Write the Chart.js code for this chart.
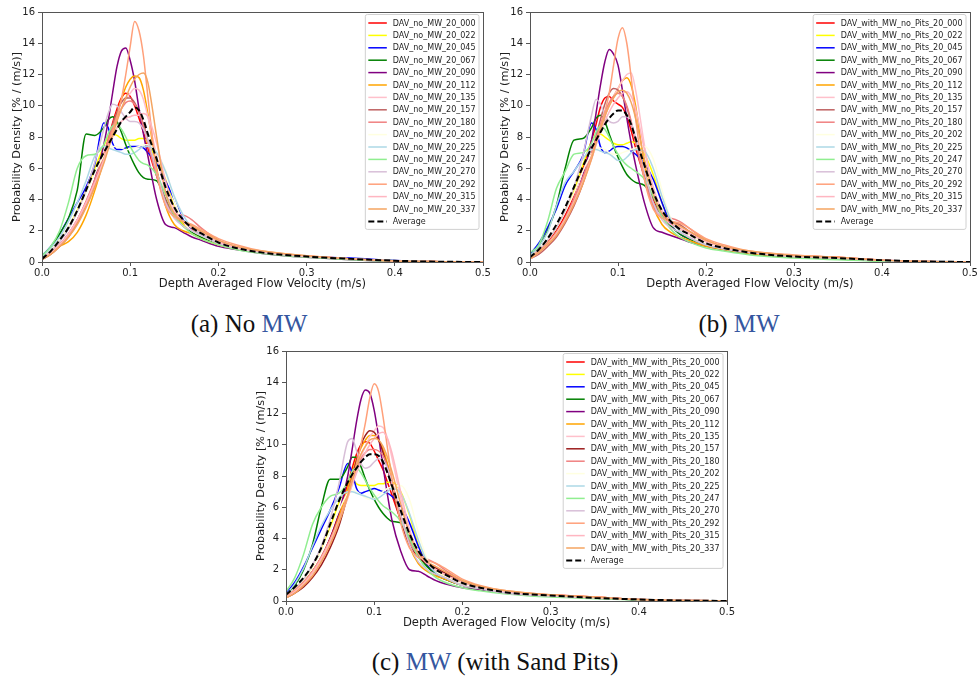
<!DOCTYPE html>
<html>
<head>
<meta charset="utf-8">
<script src="https://cdn.jsdelivr.net/npm/chart.js@4.4.1/dist/chart.umd.min.js"></script>
<style>
  html, body { margin: 0; padding: 0; background: #fff; overflow: hidden; }
  body { width: 979px; height: 679px; position: relative; }
  canvas { position: absolute; }
  .cap { position: absolute; font-family: "Liberation Serif", "DejaVu Serif", serif; font-size: 25px; color: #111; white-space: nowrap; transform: translateX(-50%); line-height: 1; }
  .cap .ac { color: #3556a0; }
</style>
</head>
<body>
<canvas id="cA" width="492" height="292" style="left:0px;top:0px;width:492px;height:292px"></canvas>
<canvas id="cB" width="491" height="292" style="left:488px;top:0px;width:491px;height:292px"></canvas>
<canvas id="cC" width="492" height="292" style="left:244px;top:339px;width:492px;height:292px"></canvas>
<div class="cap" style="left:249px;top:311px">(a) No <span class="ac">MW</span></div>
<div class="cap" style="left:739px;top:311px">(b) <span class="ac">MW</span></div>
<div class="cap" style="left:495px;top:649px">(c) <span class="ac">MW</span> (with Sand Pits)</div>
<script>
// Velocity grid (m/s) shared by every density curve
const velocity = [0, 0.01, 0.02, 0.03, 0.04, 0.05, 0.06, 0.07, 0.075, 0.08, 0.085, 0.09, 0.095, 0.1, 0.105, 0.11,
                  0.115, 0.12, 0.13, 0.14, 0.15, 0.16, 0.17, 0.18, 0.2, 0.22, 0.25, 0.3, 0.35, 0.4, 0.45, 0.5];

// Wave directions (degrees) used in the run names
const directions = ['000', '022', '045', '067', '090', '112', '135', '157', '180', '202', '225', '247', '270', '292', '315', '337'];

const xTickLabels = ['0.0', '0.1', '0.2', '0.3', '0.4', '0.5'];
const yTickLabels = ['0', '2', '4', '6', '8', '10', '12', '14', '16'];

const lineColors = ['#ff0000', '#ffff00', '#0000ff', '#008000', '#800080', '#ffa500', '#ffc0cb', '#bf6262',
                    '#f08080', '#ffffe0', '#add8e6', '#90ee90', '#d8bfd8', '#ffa07a', '#ffb6c1', '#f4a460'];
const lineColorsPits = ['#ff0000', '#ffff00', '#0000ff', '#008000', '#800080', '#ffa500', '#ffc0cb', '#9b1c1c',
                        '#f08080', '#ffffe0', '#add8e6', '#90ee90', '#d8bfd8', '#ffa07a', '#ffb6c1', '#f4a460'];

// (a) No MW — probability density [% / (m/s)]
const nm000 = [0.2,0.6,1.1,1.8,2.7,3.8,5.2,6.8,7.8,8.9,9.8,10.5,10.8,10.6,10.0,9.2,8.3,7.3,5.5,4.0,3.0,2.5,2.1,1.8,1.2,0.9,0.6,0.35,0.2,0.07,0.02,0];
const nm022 = [0.3,0.8,1.4,2.2,3.3,4.6,6.0,7.4,8.0,8.2,8.1,7.9,7.8,7.8,7.8,7.9,7.9,7.6,6.5,5.3,3.5,2.4,2.0,1.7,1.2,0.9,0.6,0.35,0.2,0.08,0.02,0];
const nm045 = [0.4,1.0,1.8,2.8,3.8,4.8,6.3,8.9,8.6,7.6,7.2,7.2,7.3,7.4,7.4,7.4,7.3,7.0,6.3,5.2,4.0,2.7,2.0,1.7,1.2,0.9,0.6,0.35,0.25,0.1,0.02,0];
const nm067 = [0.3,0.9,1.8,2.8,4.6,8.2,8.1,8.6,9.1,9.3,9.0,8.3,7.5,6.8,6.2,5.7,5.4,5.3,5.2,4.0,3.0,2.3,1.9,1.6,1.2,0.9,0.6,0.35,0.2,0.08,0.02,0];
const nm090 = [0.2,0.6,1.1,1.7,2.6,3.8,5.3,7.5,9.0,10.8,12.5,13.5,13.7,12.9,11.6,9.8,8.2,6.8,4.0,2.4,2.2,1.9,1.6,1.4,1.0,0.8,0.55,0.3,0.15,0.05,0.01,0];
const nm112 = [0.15,0.5,1.0,1.3,1.9,3.0,4.6,6.5,7.5,8.5,9.5,10.4,11.2,11.7,11.9,11.8,11.0,9.5,6.0,3.6,2.4,2.0,1.8,1.5,1.1,0.85,0.6,0.35,0.2,0.07,0.02,0];
const nm135 = [0.2,0.6,1.1,1.8,2.7,3.8,5.0,6.5,7.4,8.3,9.1,9.8,10.4,10.8,11.1,11.0,10.4,9.3,6.8,4.5,3.2,2.6,2.2,1.9,1.3,0.95,0.65,0.38,0.2,0.07,0.02,0];
const nm157 = [0.15,0.5,1.0,1.6,2.5,3.7,5.0,6.8,7.8,8.8,9.6,10.2,10.5,10.5,10.2,9.6,8.8,7.8,5.8,4.0,3.0,2.6,2.3,1.9,1.3,0.95,0.65,0.38,0.2,0.07,0.02,0];
const nm180 = [0.2,0.6,1.1,1.8,2.7,3.9,5.3,6.9,7.8,8.6,9.3,9.8,10.2,10.3,10.1,9.6,8.7,7.6,5.5,3.8,3.1,3.0,2.7,2.2,1.4,1.0,0.65,0.38,0.2,0.07,0.02,0];
const nm202 = [0.3,0.8,1.4,2.2,3.2,4.4,5.7,6.8,7.2,7.4,7.4,7.3,7.2,7.2,7.3,7.4,7.5,7.5,7.0,5.9,4.0,2.6,2.0,1.7,1.2,0.9,0.6,0.35,0.2,0.08,0.02,0];
const nm225 = [0.3,0.9,1.6,2.6,3.8,5.2,6.8,7.4,7.3,7.2,7.1,7.0,6.9,6.9,7.0,7.2,7.4,7.4,7.0,5.8,4.2,3.0,2.2,1.8,1.2,0.9,0.6,0.35,0.2,0.08,0.02,0];
const nm247 = [0.4,1.0,2.0,3.8,6.0,6.8,6.9,7.5,8.2,8.7,8.8,8.5,8.0,7.4,6.9,6.5,6.3,6.2,5.6,4.3,3.0,2.3,1.8,1.5,1.1,0.8,0.55,0.3,0.15,0.05,0.01,0];
const nm270 = [0.2,0.7,1.3,2.1,3.2,4.6,6.4,8.5,9.5,10.1,10.0,9.6,9.2,9.0,9.0,8.9,8.5,7.8,5.8,3.8,2.8,2.3,2.0,1.7,1.2,0.9,0.6,0.35,0.2,0.07,0.02,0];
const nm292 = [0.2,0.6,1.1,1.7,2.6,3.7,5.0,6.6,7.5,8.4,9.3,10.4,12.0,13.8,15.4,14.8,13.2,10.6,5.8,3.6,2.9,2.6,2.4,2.1,1.5,1.1,0.7,0.4,0.2,0.07,0.02,0];
const nm315 = [0.2,0.6,1.1,1.8,2.7,3.8,5.1,6.5,7.3,8.0,8.6,9.0,9.2,9.3,9.4,9.4,9.5,9.3,7.6,5.2,3.4,2.6,2.2,1.9,1.3,0.95,0.65,0.38,0.2,0.07,0.02,0];
const nm337 = [0.2,0.5,1.0,1.6,2.4,3.5,4.8,6.3,7.2,8.1,9.0,9.8,10.5,11.2,11.7,12.0,12.1,11.5,8.0,4.5,3.1,2.6,2.3,2.0,1.4,1.0,0.7,0.4,0.2,0.07,0.02,0];
const nmAvg = [0.2,0.7,1.4,2.2,3.3,4.6,5.9,7.0,7.5,8.0,8.5,9.0,9.3,9.6,9.9,9.7,9.1,8.2,6.6,4.8,3.5,2.7,2.2,1.85,1.25,0.9,0.6,0.35,0.2,0.08,0.02,0];

// (b) MW, no pits
const mw000 = [0.3,0.7,1.3,2.0,3.0,4.3,6.0,7.8,8.8,9.9,10.5,10.6,10.3,10.1,9.9,9.3,8.4,7.3,5.5,4.0,3.0,2.5,2.1,1.8,1.2,0.9,0.6,0.4,0.3,0.12,0.03,0];
const mw022 = [0.3,0.8,1.4,2.2,3.3,4.6,6.2,7.7,8.1,8.2,8.0,7.8,7.6,7.5,7.5,7.6,7.7,7.6,6.9,5.6,3.8,2.6,2.1,1.8,1.2,0.9,0.6,0.35,0.25,0.1,0.03,0];
const mw045 = [0.5,1.2,2.2,3.4,4.9,5.8,6.8,8.9,8.5,7.4,7.0,7.1,7.3,7.4,7.4,7.3,7.1,6.9,6.3,5.3,3.8,2.4,1.8,1.5,1.1,0.85,0.6,0.35,0.25,0.1,0.03,0];
const mw067 = [0.4,1.0,2.0,3.6,6.0,7.8,7.9,8.6,9.2,9.4,9.0,8.2,7.4,6.7,6.1,5.6,5.3,5.1,4.9,4.2,3.0,2.3,1.8,1.5,1.1,0.8,0.55,0.3,0.2,0.08,0.02,0];
const mw090 = [0.3,0.7,1.2,1.9,2.8,4.0,5.5,7.8,9.5,11.3,12.8,13.6,13.3,12.6,11.0,9.2,7.6,6.2,3.8,2.2,1.9,1.7,1.5,1.3,1.0,0.8,0.55,0.35,0.25,0.1,0.02,0];
const mw112 = [0.2,0.6,1.1,1.8,2.7,3.9,5.3,6.9,7.8,8.6,9.4,10.0,10.6,11.1,11.6,11.8,11.3,10.0,6.2,3.6,2.4,1.9,1.6,1.4,1.0,0.8,0.55,0.35,0.25,0.1,0.02,0];
const mw135 = [0.2,0.5,1.0,1.6,2.5,3.6,5.0,6.6,7.5,8.4,9.3,10.0,10.6,11.1,11.6,12.0,12.1,11.0,7.5,4.5,3.0,2.4,2.1,1.8,1.2,0.9,0.6,0.38,0.28,0.12,0.03,0];
const mw157 = [0.2,0.5,1.0,1.6,2.5,3.6,5.0,6.9,8.0,9.1,10.1,10.8,11.1,11.0,10.6,9.9,8.9,7.7,5.4,3.8,3.0,2.6,2.4,2.0,1.3,1.0,0.65,0.4,0.28,0.12,0.03,0];
const mw180 = [0.3,0.7,1.2,1.9,2.8,4.0,5.4,7.0,7.9,8.8,9.6,10.2,10.6,10.8,10.6,10.0,9.0,7.7,5.3,3.6,2.9,2.8,2.6,2.2,1.4,1.0,0.65,0.4,0.28,0.12,0.03,0];
const mw202 = [0.3,0.8,1.4,2.2,3.2,4.4,5.8,6.9,7.2,7.3,7.2,7.0,6.9,6.9,7.0,7.1,7.2,7.3,7.4,6.6,4.6,2.8,2.0,1.7,1.2,0.9,0.6,0.35,0.25,0.1,0.03,0];
const mw225 = [0.4,1.0,1.9,3.6,5.1,5.8,6.6,7.2,7.2,7.1,7.0,6.9,6.7,6.5,6.5,6.7,7.0,7.2,7.1,6.0,4.2,2.7,2.0,1.6,1.1,0.85,0.6,0.35,0.25,0.1,0.03,0];
const mw247 = [0.6,1.1,2.6,4.7,5.8,6.9,7.0,7.6,8.3,8.7,8.5,8.0,7.4,6.9,6.5,6.2,6.0,5.8,5.3,4.2,2.9,2.1,1.6,1.3,0.9,0.7,0.45,0.25,0.15,0.05,0.01,0];
const mw270 = [0.3,0.8,1.4,2.2,3.3,4.8,6.8,9.4,10.4,10.1,9.4,9.0,8.9,9.0,9.3,9.3,8.9,8.0,5.8,3.8,2.7,2.2,1.9,1.6,1.1,0.85,0.6,0.35,0.25,0.1,0.03,0];
const mw292 = [0.3,0.7,1.2,1.9,2.8,3.9,5.2,6.8,7.7,8.6,9.6,10.8,12.6,14.3,15.0,14.0,11.8,9.2,5.3,3.4,2.8,2.6,2.5,2.2,1.5,1.1,0.7,0.45,0.3,0.12,0.03,0];
const mw315 = [0.2,0.6,1.1,1.8,2.7,3.8,5.1,6.6,7.5,8.3,9.0,9.6,10.1,10.5,10.8,10.9,10.6,9.8,7.2,4.8,3.3,2.6,2.2,1.9,1.3,0.95,0.65,0.4,0.28,0.12,0.03,0];
const mw337 = [0.2,0.6,1.1,1.7,2.6,3.7,5.0,6.6,7.6,8.5,9.3,10.0,10.5,10.9,11.0,10.8,10.2,9.2,6.6,4.4,3.1,2.6,2.3,2.0,1.4,1.0,0.7,0.42,0.3,0.12,0.03,0];
const mwAvg = [0.3,0.8,1.5,2.4,3.5,4.8,6.1,7.3,7.8,8.3,8.8,9.2,9.5,9.7,9.7,9.4,8.8,7.9,6.2,4.5,3.3,2.6,2.1,1.8,1.2,0.9,0.6,0.35,0.25,0.12,0.03,0];

// (c) MW with sand pits
const mp000 = [0.3,0.7,1.2,1.9,2.8,4.0,5.6,7.5,8.5,9.4,10.0,10.2,10.1,9.6,9.0,8.4,7.6,6.8,5.2,3.9,2.9,2.3,1.9,1.6,1.1,0.85,0.55,0.4,0.25,0.1,0.03,0];
const mp022 = [0.3,0.8,1.4,2.2,3.3,4.7,6.3,7.6,7.8,7.5,7.4,7.4,7.4,7.4,7.5,7.5,7.6,7.6,7.0,5.5,3.6,2.4,1.9,1.6,1.1,0.85,0.55,0.35,0.2,0.1,0.03,0];
const mp045 = [0.5,1.2,2.2,3.4,4.6,5.8,7.2,8.8,8.2,7.2,6.9,7.0,7.1,7.2,7.1,7.0,6.9,6.7,6.1,5.0,3.5,2.3,1.7,1.4,1.0,0.8,0.55,0.35,0.2,0.1,0.03,0];
const mp067 = [0.4,1.0,2.0,3.6,6.0,7.8,7.8,8.6,9.2,9.2,8.6,7.8,7.1,6.5,6.0,5.6,5.3,5.1,5.0,4.0,2.9,2.2,1.7,1.4,1.0,0.75,0.5,0.3,0.2,0.08,0.02,0];
const mp090 = [0.3,0.7,1.2,1.9,2.8,4.0,5.6,8.0,9.7,11.5,12.9,13.5,13.3,12.2,10.5,8.6,6.8,5.2,3.2,2.0,1.9,1.6,1.3,1.1,0.85,0.7,0.5,0.3,0.18,0.08,0.02,0];
const mp112 = [0.2,0.6,1.1,1.8,2.7,3.9,5.4,7.2,8.2,9.1,9.8,10.3,10.6,10.6,10.3,9.7,8.8,7.7,5.4,3.5,2.4,1.9,1.6,1.4,1.0,0.8,0.55,0.35,0.2,0.1,0.03,0];
const mp135 = [0.2,0.6,1.0,1.6,2.5,3.6,5.0,6.6,7.5,8.4,9.2,9.9,10.5,10.9,11.2,11.1,10.4,9.2,6.6,4.3,3.0,2.4,2.1,1.8,1.2,0.9,0.6,0.38,0.22,0.1,0.03,0];
const mp157 = [0.2,0.5,0.9,1.5,2.3,3.4,4.8,6.8,7.9,9.0,10.0,10.6,10.9,10.8,10.3,9.5,8.5,7.3,5.1,3.6,2.8,2.4,2.1,1.8,1.2,0.9,0.6,0.38,0.22,0.1,0.03,0];
const mp180 = [0.3,0.7,1.2,1.9,2.8,3.9,5.2,6.8,7.7,8.5,9.1,9.5,9.7,9.7,9.6,9.3,8.6,7.6,5.5,3.8,3.0,2.7,2.4,2.0,1.3,0.95,0.6,0.38,0.22,0.1,0.03,0];
const mp202 = [0.3,0.8,1.4,2.2,3.2,4.5,5.8,6.9,7.1,7.0,6.8,6.6,6.5,6.6,6.8,7.0,7.2,7.3,7.4,6.5,4.4,2.7,1.9,1.6,1.1,0.85,0.55,0.35,0.2,0.1,0.03,0];
const mp225 = [0.4,1.1,2.1,3.5,4.8,5.8,6.6,7.0,7.0,6.9,6.8,6.7,6.6,6.5,6.6,6.8,7.0,7.2,6.9,5.6,3.9,2.5,1.8,1.5,1.0,0.8,0.5,0.32,0.2,0.1,0.03,0];
const mp247 = [0.6,1.5,3.0,4.9,6.0,6.7,6.9,7.6,8.3,8.5,8.2,7.7,7.2,6.8,6.4,6.1,5.9,5.7,5.1,4.0,2.8,2.0,1.5,1.2,0.85,0.65,0.45,0.25,0.15,0.06,0.02,0];
const mp270 = [0.3,0.8,1.4,2.3,3.5,5.2,7.5,10.2,10.4,9.6,8.8,8.5,8.6,8.9,9.1,9.0,8.5,7.6,5.5,3.6,2.5,2.0,1.7,1.5,1.0,0.8,0.5,0.32,0.2,0.1,0.03,0];
const mp292 = [0.3,0.7,1.2,1.9,2.8,3.9,5.2,6.8,7.8,8.8,10.0,11.4,13.0,13.9,13.4,11.8,9.8,7.9,5.0,3.4,2.8,2.6,2.4,2.1,1.4,1.0,0.65,0.4,0.25,0.1,0.03,0];
const mp315 = [0.2,0.6,1.1,1.8,2.7,3.8,5.1,6.6,7.4,8.2,8.9,9.5,10.0,10.4,10.7,10.8,10.4,9.5,7.0,4.6,3.1,2.4,2.0,1.7,1.2,0.9,0.6,0.38,0.22,0.1,0.03,0];
const mp337 = [0.2,0.5,1.0,1.6,2.5,3.6,5.0,6.7,7.7,8.6,9.4,9.9,10.3,10.4,10.3,9.9,9.2,8.3,6.2,4.3,3.1,2.5,2.2,1.9,1.3,0.95,0.65,0.4,0.25,0.1,0.03,0];
const mpAvg = [0.4,0.9,1.5,2.3,3.4,4.9,6.4,7.6,8.1,8.5,8.9,9.2,9.4,9.4,9.3,8.9,8.2,7.4,5.8,4.3,3.2,2.5,2.0,1.7,1.15,0.85,0.55,0.35,0.2,0.1,0.03,0];

const UI_FONT = 'DejaVu Sans';
const AXIS_COLOR = '#555';
const TEXT_COLOR = '#1e1e1e';

// Legend drawn inside the plot area, top-right corner, with a framed box
const boxLegend = {
  id: 'boxLegend',
  afterDraw(chart) {
    const ctx = chart.ctx;
    const area = chart.chartArea;
    const sets = chart.data.datasets;
    const fs = 8;
    ctx.save();
    ctx.font = fs + 'px "' + UI_FONT + '"';
    let tw = 0;
    sets.forEach(d => { tw = Math.max(tw, ctx.measureText(d.label).width); });
    const padL = 3, lineLen = 18.5, gap = 6, padR = 3.5, step = 12.4, first = 8.5;
    const w = padL + lineLen + gap + tw + padR;
    const h = first + (sets.length - 1) * step + 8;
    const x0 = area.right - 4 - w;
    const y0 = area.top + 2.5;
    ctx.beginPath();
    ctx.roundRect(x0, y0, w, h, 2);
    ctx.fillStyle = 'rgba(255,255,255,0.85)';
    ctx.fill();
    ctx.strokeStyle = '#d0d0d0';
    ctx.lineWidth = 1;
    ctx.stroke();
    sets.forEach((d, i) => {
      const cy = y0 + first + i * step;
      ctx.beginPath();
      ctx.setLineDash(d.borderDash || []);
      ctx.strokeStyle = d.borderColor;
      ctx.lineWidth = d.borderWidth;
      ctx.moveTo(x0 + padL, cy);
      ctx.lineTo(x0 + padL + lineLen, cy);
      ctx.stroke();
      ctx.setLineDash([]);
      ctx.fillStyle = TEXT_COLOR;
      ctx.textBaseline = 'middle';
      ctx.textAlign = 'left';
      ctx.fillText(d.label, x0 + padL + lineLen + gap, cy + 0.5);
    });
    ctx.restore();
  }
};

// Full frame around the plot area
const frame = {
  id: 'frame',
  afterDatasetsDraw(chart) {
    const { ctx, chartArea: a } = chart;
    ctx.save();
    ctx.strokeStyle = AXIS_COLOR;
    ctx.lineWidth = 1;
    ctx.strokeRect(Math.round(a.left) + 0.5, Math.round(a.top) + 0.5, Math.round(a.right - a.left), Math.round(a.bottom - a.top));
    ctx.restore();
  }
};

function buildChart(canvasId, prefix, series, avg, colors, padRight) {
  const datasets = series.map((vals, i) => ({
    label: prefix + directions[i],
    data: vals.map((v, j) => ({ x: velocity[j], y: v })),
    borderColor: colors[i],
    borderWidth: 1.5,
    pointRadius: 0,
    fill: false,
    cubicInterpolationMode: 'monotone',
    order: 40 - i
  }));
  datasets.push({
    label: 'Average',
    data: avg.map((v, j) => ({ x: velocity[j], y: v })),
    borderColor: '#000000',
    borderWidth: 2,
    borderDash: [6, 3],
    pointRadius: 0,
    fill: false,
    cubicInterpolationMode: 'monotone',
    order: 0
  });
  return new Chart(document.getElementById(canvasId), {
    type: 'line',
    data: { datasets },
    options: {
      responsive: false,
      animation: false,
      events: [],
      layout: { padding: { top: 12, right: padRight, left: 0, bottom: 0 } },
      plugins: { legend: { display: false }, tooltip: { enabled: false } },
      scales: {
        x: {
          type: 'linear', min: 0, max: 0.5,
          afterBuildTicks(s) { s.ticks = xTickLabels.map(t => ({ value: parseFloat(t) })); },
          afterFit(s) { s.height = 30; },
          ticks: { callback: (v, i) => xTickLabels[i], font: { family: UI_FONT, size: 10 }, color: TEXT_COLOR, padding: 1, maxRotation: 0 },
          grid: { drawOnChartArea: false, tickLength: 4, color: AXIS_COLOR },
          border: { color: AXIS_COLOR },
          title: { display: true, text: 'Depth Averaged Flow Velocity (m/s)', font: { family: UI_FONT, size: 11.6 }, color: TEXT_COLOR, padding: { top: 0, bottom: 1.5 } }
        },
        y: {
          min: 0, max: 16,
          afterBuildTicks(s) { s.ticks = yTickLabels.map(t => ({ value: parseFloat(t) })); },
          afterFit(s) { s.width = 42; },
          ticks: { callback: (v, i) => yTickLabels[i], font: { family: UI_FONT, size: 10 }, color: TEXT_COLOR, padding: 3 },
          grid: { drawOnChartArea: false, tickLength: 4, color: AXIS_COLOR },
          border: { color: AXIS_COLOR },
          title: { display: true, text: 'Probability Density [% / (m/s)]', font: { family: UI_FONT, size: 11.3 }, color: TEXT_COLOR, padding: { top: 10.5, bottom: 0 } }
        }
      }
    },
    plugins: [frame, boxLegend]
  });
}

buildChart('cA', 'DAV_no_MW_20_',
  [nm000, nm022, nm045, nm067, nm090, nm112, nm135, nm157, nm180, nm202, nm225, nm247, nm270, nm292, nm315, nm337],
  nmAvg, lineColors, 9);
buildChart('cB', 'DAV_with_MW_no_Pits_20_',
  [mw000, mw022, mw045, mw067, mw090, mw112, mw135, mw157, mw180, mw202, mw225, mw247, mw270, mw292, mw315, mw337],
  mwAvg, lineColors, 9);
buildChart('cC', 'DAV_with_MW_with_Pits_20_',
  [mp000, mp022, mp045, mp067, mp090, mp112, mp135, mp157, mp180, mp202, mp225, mp247, mp270, mp292, mp315, mp337],
  mpAvg, lineColorsPits, 8);
</script>
</body>
</html>
